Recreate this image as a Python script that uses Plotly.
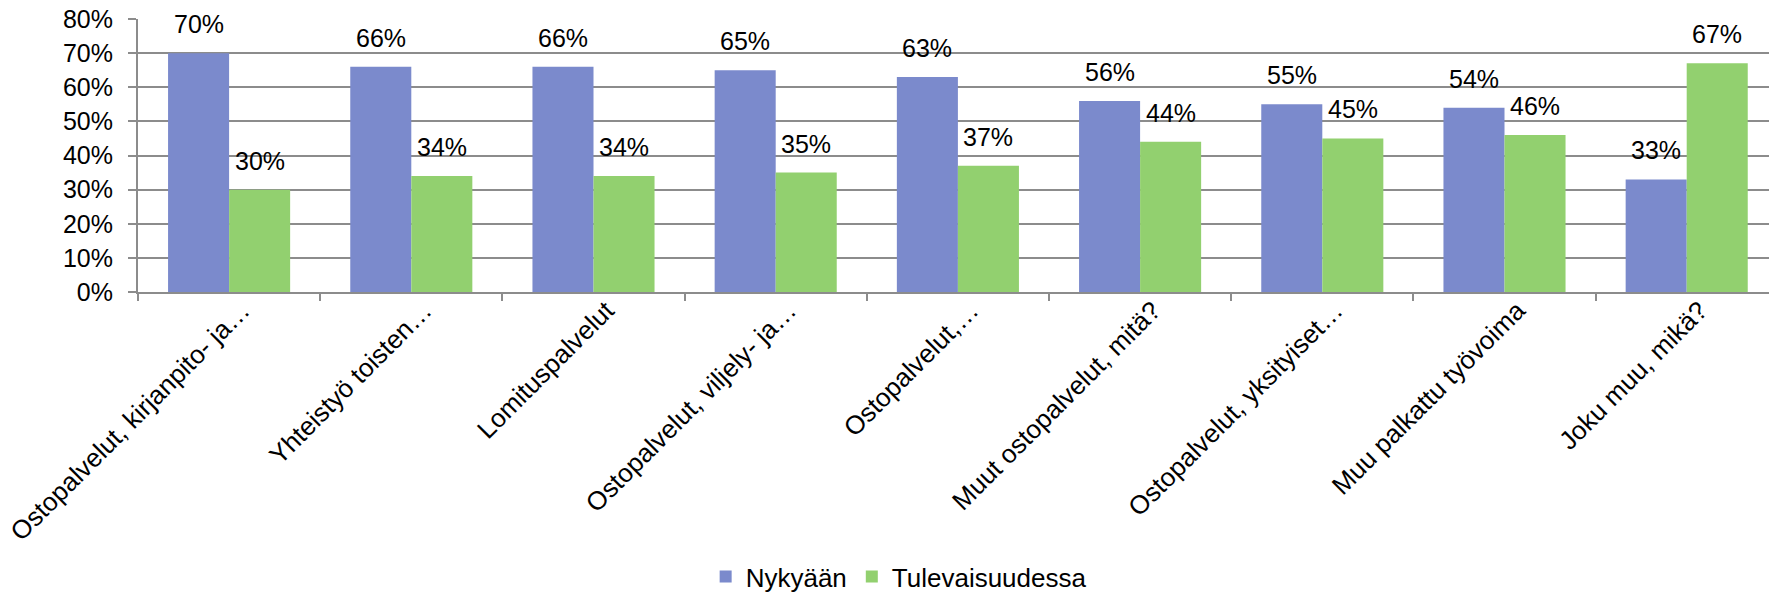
import plotly.graph_objects as go

categories = [
    "Ostopalvelut, kirjanpito- ja…",
    "Yhteistyö toisten…",
    "Lomituspalvelut",
    "Ostopalvelut, viljely- ja…",
    "Ostopalvelut,…",
    "Muut ostopalvelut, mitä?",
    "Ostopalvelut, yksityiset…",
    "Muu palkattu työvoima",
    "Joku muu, mikä?",
]
nykyaan = [70, 66, 66, 65, 63, 56, 55, 54, 33]
tulevaisuudessa = [30, 34, 34, 35, 37, 44, 45, 46, 67]
y_ticks = [0, 10, 20, 30, 40, 50, 60, 70, 80]

BLUE = "#7b8acc"
GREEN = "#92d06f"
GRID = "#8c8c8c"
FONT = "Liberation Sans, Arial, sans-serif"

W, H = 1769, 600
M_L, M_R, M_T, M_B = 138, 0, 19, 308
CAT_PX = 182.2  # width of one category slot in pixels

fig = go.Figure()
fig.add_trace(go.Bar(name="Nykyään", x=categories, y=nykyaan,
                     marker=dict(color=BLUE, line=dict(width=0))))
fig.add_trace(go.Bar(name="Tulevaisuudessa", x=categories, y=tulevaisuudessa,
                     marker=dict(color=GREEN, line=dict(width=0))))

# value labels above each bar
bar_half = CAT_PX * (1 - 0.33) / 4
annotations = []
for series, shift in ((nykyaan, -bar_half), (tulevaisuudessa, bar_half)):
    for cat, v in zip(categories, series):
        annotations.append(dict(
            x=cat, y=v, xref="x", yref="y", text=f"{v}%", showarrow=False,
            xanchor="center", yanchor="bottom", xshift=shift, yshift=13,
            font=dict(family=FONT, size=25, color="black"),
        ))

plot_w = W - M_L - M_R
x_end = -0.5 + plot_w / CAT_PX

fig.update_layout(
    width=W, height=H,
    margin=dict(l=M_L, r=M_R, t=M_T, b=M_B, pad=0),
    paper_bgcolor="white", plot_bgcolor="white",
    barmode="group", bargap=0.33, bargroupgap=0,
    font=dict(family=FONT, size=25, color="black"),
    annotations=annotations,
    showlegend=True,
    legend=dict(
        orientation="h", xref="container", yref="container",
        x=0.508, xanchor="center", y=-0.009, yanchor="bottom",
        font=dict(family=FONT, size=26, color="black"),
        itemsizing="constant", bgcolor="rgba(0,0,0,0)",
        borderwidth=0,
    ),
    xaxis=dict(
        type="category", range=[-0.5, x_end],
        showgrid=False, showline=True, linecolor=GRID, linewidth=2,
        ticks="outside", tickson="boundaries", ticklen=7, tickwidth=2,
        tickcolor=GRID, tickangle=-45, ticklabelshift=13,
        ticklabelstandoff=-9,
        tickfont=dict(family=FONT, size=26, color="black"),
    ),
    yaxis=dict(
        range=[0, 80], tickvals=y_ticks,
        ticktext=[f"{t}%" for t in y_ticks],
        showgrid=True, gridcolor=GRID, gridwidth=2,
        showline=True, linecolor=GRID, linewidth=2,
        ticks="outside", ticklen=8, tickwidth=2, tickcolor=GRID,
        ticklabelstandoff=10, zeroline=False,
        tickfont=dict(family=FONT, size=25, color="black"),
    ),
)

fig.write_html("out.html")
